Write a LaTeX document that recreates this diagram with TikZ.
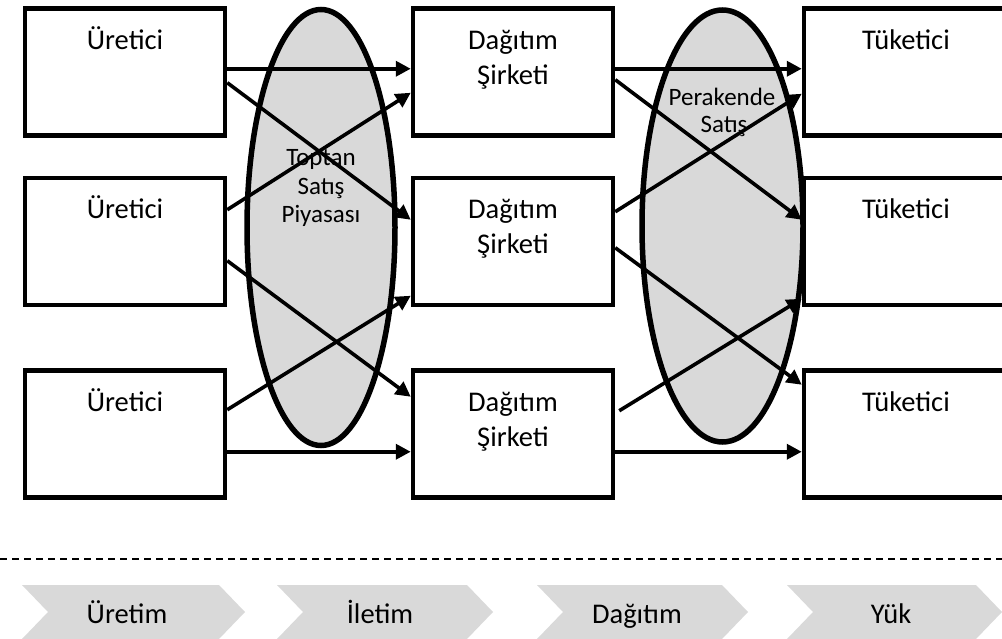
\documentclass[tikz,border=0pt]{standalone}
\usepackage{fontspec}
\setmainfont{Carlito}
\usetikzlibrary{arrows.meta,shapes.geometric}
\definecolor{lgray}{RGB}{217,217,217}
\begin{document}
\begin{tikzpicture}[x=1pt,y=-1pt,
  box/.style={draw=black, line width=4.5pt, fill=white, rectangle,
    minimum width=200pt, minimum height=127pt, inner sep=0pt},
  cbox/.style={box, minimum width=204pt},
  lbl/.style={font=\fontsize{28.5}{34}\selectfont, anchor=base, inner sep=0pt},
  slbl/.style={font=\fontsize{25}{30}\selectfont, anchor=base, inner sep=0pt},
  mkt/.style={draw=black, line width=5.5pt, fill=lgray, ellipse, inner sep=0pt},
  arr/.style={line width=3.6pt, -{Triangle[length=15pt,width=15pt]}},
  chev/.style={fill=lgray, draw=none}]
\useasboundingbox (0,0) rectangle (1002,639);

% boxes
\node[box] (p1) at (125,72) {};
\node[box] (p2) at (125,241.5) {};
\node[box] (p3) at (125,434) {};
\node[box] (d1) at (513,72) {};
\node[box] (d2) at (513,241.5) {};
\node[box] (d3) at (513,434) {};
\node[cbox] (c1) at (906,72) {};
\node[cbox] (c2) at (906,241.5) {};
\node[cbox] (c3) at (906,434) {};

% labels
\node[lbl] (lp1) at (125,50) {Üretici};
\node[lbl] (lp2) at (125,219) {Üretici};
\node[lbl] (lp3) at (125,411) {Üretici};
\node[lbl] (ld1a) at (513,50) {Dağıtım};
\node[lbl] (ld1b) at (513,85) {Şirketi};
\node[lbl] (ld2a) at (513,219) {Dağıtım};
\node[lbl] (ld2b) at (513,254) {Şirketi};
\node[lbl] (ld3a) at (513,411) {Dağıtım};
\node[lbl] (ld3b) at (513,446) {Şirketi};
\node[lbl] (lc1) at (906,50) {Tüketici};
\node[lbl] (lc2) at (906,219) {Tüketici};
\node[lbl] (lc3) at (906,411) {Tüketici};

% markets
\node[mkt, minimum width=148pt, minimum height=436pt] (m1) at (321,227.5) {};
\node[mkt, minimum width=161pt, minimum height=432pt] (m2) at (722.5,226) {};
\node[slbl] (m1a) at (321,166) {Toptan};
\node[slbl] (m1b) at (321,195) {Satış};
\node[slbl] (m1c) at (321,223) {Piyasası};
\node[slbl] (m2a) at (722,106) {Perakende};
\node[slbl] (m2b) at (724,133) {Satış};

% producer -> distribution
\draw[arr] ([yshift=-62.5pt]p1.north east) -- ([yshift=-62.5pt]d1.north west);
\draw[arr] ([yshift=-76.5pt]p1.north east) -- ([yshift=-44pt]d2.north west);
\draw[arr] ([yshift=-34pt]p2.north east) -- ([yshift=-86.5pt]d1.north west);
\draw[arr] ([yshift=-85pt]p2.north east) -- ([yshift=-28.5pt]d3.north west);
\draw[arr] ([yshift=-41.5pt]p3.north east) -- ([yshift=-120pt]d2.north west);
\draw[arr] ([yshift=-83.5pt]p3.north east) -- ([yshift=-83.5pt]d3.north west);

% distribution -> consumer
\draw[arr] ([yshift=-62.5pt]d1.north east) -- ([yshift=-62.5pt]c1.north west);
\draw[arr] ([yshift=-73.5pt]d1.north east) -- ([yshift=-44pt]c2.north west);
\draw[arr] ([yshift=-36pt]d2.north east) -- ([yshift=-87.5pt]c1.north west);
\draw[arr] ([yshift=-72pt]d2.north east) -- ([yshift=-16.5pt]c3.north west);
\draw[arr] ([xshift=4pt,yshift=-42.5pt]d3.north east) -- ([yshift=-123pt]c2.north west);
\draw[arr] ([yshift=-83.5pt]d3.north east) -- ([yshift=-83.5pt]c3.north west);

% dashed separator
\coordinate (sepL) at (0,559);
\coordinate (sepR) at (1002,559);
\draw[line width=2pt, dash pattern=on 7pt off 5pt] (sepL) -- (sepR);

% chevrons
\fill[chev] (22,585) -- (219,585) -- (245,612) -- (219,639) -- (22,639) -- (48,612) -- cycle;
\fill[chev] (277,585) -- (467,585) -- (493,612) -- (467,639) -- (277,639) -- (303,612) -- cycle;
\fill[chev] (537,585) -- (722,585) -- (748,612) -- (722,639) -- (537,639) -- (563,612) -- cycle;
\fill[chev] (787,585) -- (976,585) -- (1002,612) -- (976,639) -- (787,639) -- (813,612) -- cycle;
\node[lbl] (s1) at (127,623) {Üretim};
\node[lbl] (s2) at (380,623) {İletim};
\node[lbl] (s3) at (637,623) {Dağıtım};
\node[lbl] (s4) at (891,623) {Yük};
\end{tikzpicture}
\end{document}
